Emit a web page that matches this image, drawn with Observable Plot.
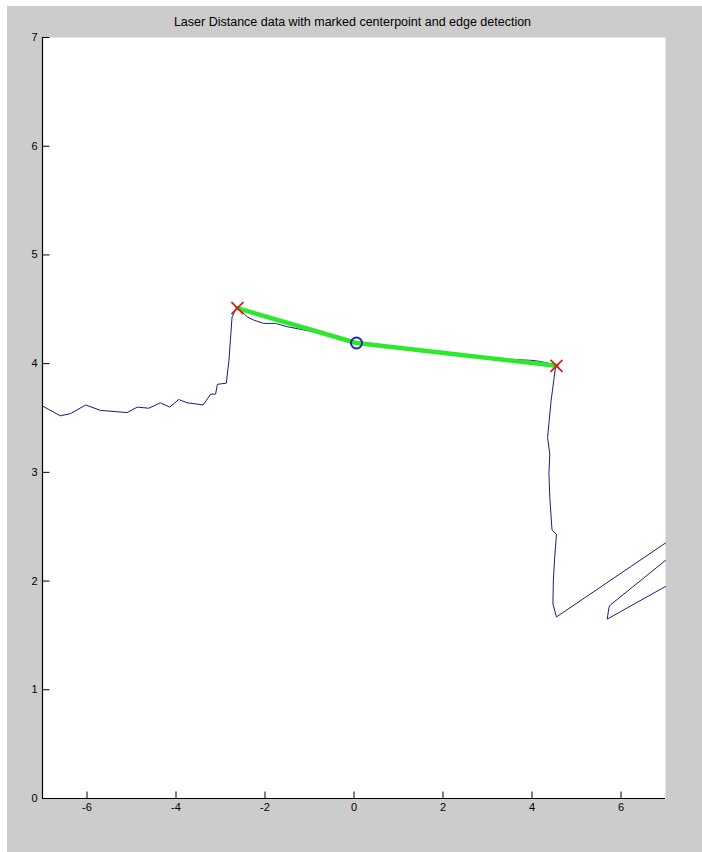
<!DOCTYPE html>
<html>
<head>
<meta charset="utf-8">
<script src="https://cdn.jsdelivr.net/npm/d3@7"></script>
<script src="https://cdn.jsdelivr.net/npm/@observablehq/plot@0.6"></script>
<style>
  html, body { margin: 0; padding: 0; background: #cccccc; }
  #fig { position: relative; width: 702px; height: 852px; background: #cccccc; box-shadow: inset 7px 6px 0 #ffffff; overflow: hidden; }
  #title { height: 30px; box-sizing: border-box; padding-top: 15px; line-height: 14px; font-size: 12.5px;
           font-family: "Liberation Sans", Arial, sans-serif; color: #000; text-align: center; width: 705px; }
  #chart svg { display: block; }
</style>
</head>
<body>
<div id="fig">
  <div id="title">Laser Distance data with marked centerpoint and edge detection</div>
  <div id="chart"></div>
</div>
<script>
// Laser scan (x, y), left to right along the trace;
// scanSeg splits the trace where it leaves the right edge of the axes
const scanX = [-7.0, -6.6, -6.37, -6.03, -5.70, -5.10, -4.87, -4.61, -4.35, -4.14, -3.94, -3.75, -3.39, -3.22, -3.11, -3.07, -2.87, -2.81, -2.74, -2.69, -2.62,
  -2.40, -2.25, -2.03, -1.76, -1.50, -1.13, -0.75, -0.45, -0.2, 0.05, 0.6, 1.2, 2.0, 2.8, 3.5, 4.0, 4.19, 4.4, 4.53,
  4.49, 4.43, 4.38, 4.35, 4.40, 4.38, 4.40, 4.43, 4.45, 4.55, 4.51, 4.48, 4.47, 4.55, 7.0,
  7.0, 5.76, 5.73, 5.69, 7.0];
const scanY = [3.61, 3.52, 3.54, 3.62, 3.57, 3.55, 3.60, 3.59, 3.64, 3.60, 3.67, 3.64, 3.62, 3.72, 3.72, 3.81, 3.82, 4.03, 4.43, 4.47, 4.52,
  4.43, 4.40, 4.37, 4.37, 4.34, 4.31, 4.28, 4.24, 4.22, 4.19, 4.17, 4.14, 4.11, 4.07, 4.04, 4.03, 4.02, 4.00, 3.97,
  3.85, 3.66, 3.45, 3.32, 3.17, 2.99, 2.77, 2.59, 2.47, 2.43, 2.22, 2.01, 1.79, 1.67, 2.35,
  2.19, 1.78, 1.76, 1.65, 1.95];
const scanSeg = [
  0, 0, 0, 0, 0, 0, 0, 0, 0, 0, 0, 0, 0, 0, 0, 0, 0, 0, 0, 0, 0,
  0, 0, 0, 0, 0, 0, 0, 0, 0, 0, 0, 0, 0, 0, 0, 0, 0, 0, 0,
  0, 0, 0, 0, 0, 0, 0, 0, 0, 0, 0, 0, 0, 0, 0,
  1, 1, 1, 1, 1];

// Detected edges and centre point
const edgeX = [-2.62, 4.55];
const edgeY = [4.51, 3.98];
const centerX = [0.056];
const centerY = [4.19];

const xTicks = [-6, -4, -2, 0, 2, 4, 6];
const yTicks = [0, 1, 2, 3, 4, 5, 6, 7];

const scan = scanX.map((x, i) => ({x, y: scanY[i], seg: scanSeg[i]}));
const edges = edgeX.map((x, i) => ({x, y: edgeY[i]}));
const center = centerX.map((x, i) => ({x, y: centerY[i]}));
const fitLine = [edges[0], center[0], edges[1]];

const fmt = d => String(d);
const xMin = -7, yMin = 0;

// inward tick glyphs (7 px) for dot marks
const tickUp = {draw(ctx) { ctx.moveTo(0, 0); ctx.lineTo(0, -7); }};
const tickRight = {draw(ctx) { ctx.moveTo(0, 0); ctx.lineTo(7, 0); }};

const chart = Plot.plot({
  width: 702,
  height: 822,
  marginTop: 7,
  marginBottom: 54,
  marginLeft: 42,
  marginRight: 37,
  style: {background: "transparent", fontFamily: "'Liberation Sans', Arial, sans-serif", fontSize: "11px", color: "#000"},
  x: {domain: [-7, 7], label: null},
  y: {domain: [0, 7], label: null},
  marks: [
    Plot.frame({fill: "#ffffff", stroke: null}),
    Plot.line(scan, {x: "x", y: "y", z: "seg", stroke: "#1c1c78", strokeWidth: 1}),
    Plot.line(fitLine, {x: "x", y: "y", stroke: "#2ee82e", strokeWidth: 4.5}),
    Plot.dot(center, {x: "x", y: "y", r: 5.5, stroke: "#1a2aa8", strokeWidth: 2, fill: "none"}),
    Plot.dot(edges, {x: "x", y: "y", symbol: "times", r: 5.5, stroke: "#d42020", strokeWidth: 1.8}),
    Plot.dot(xTicks, {x: d => d, y: yMin, symbol: tickUp, stroke: "#000", strokeWidth: 1, fill: "none"}),
    Plot.dot(yTicks, {y: d => d, x: xMin, symbol: tickRight, stroke: "#000", strokeWidth: 1, fill: "none"}),
    Plot.ruleX([xMin], {stroke: "#000", strokeWidth: 1.2}),
    Plot.ruleY([yMin], {stroke: "#000", strokeWidth: 1.2}),
    Plot.axisX(xTicks, {tickSize: 0, tickPadding: 5, tickFormat: fmt, label: null, fill: "#000", fontSize: 11}),
    Plot.axisY(yTicks, {tickSize: 0, tickPadding: 5, tickFormat: fmt, label: null, fill: "#000", fontSize: 11})
  ]
});
document.getElementById("chart").appendChild(chart);
</script>
</body>
</html>
